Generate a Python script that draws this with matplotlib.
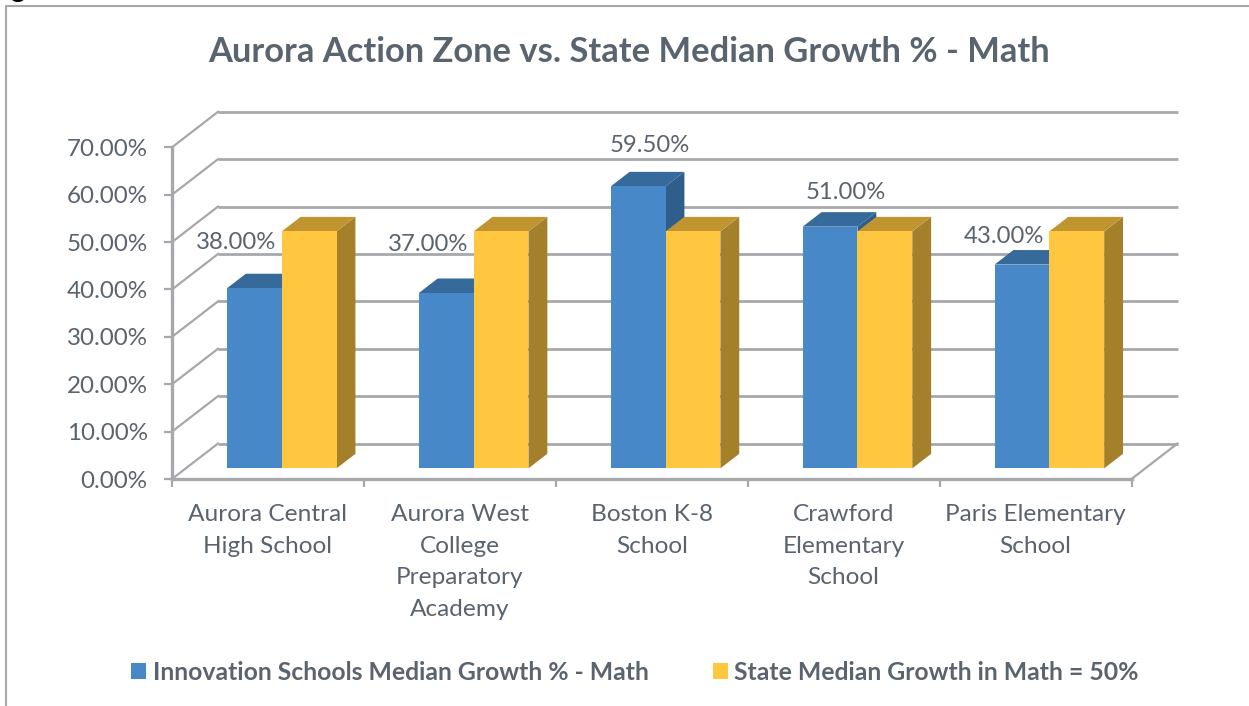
import matplotlib
matplotlib.use('Agg')
import matplotlib.pyplot as plt
from matplotlib.lines import Line2D
from matplotlib.patches import Patch, Polygon

schools = ['Aurora Central\nHigh School', 'Aurora West\nCollege\nPreparatory\nAcademy',
           'Boston K-8\nSchool', 'Crawford\nElementary\nSchool', 'Paris Elementary\nSchool']
innovation = [38.0, 37.0, 59.5, 51.0, 43.0]
state = [50.0, 50.0, 50.0, 50.0, 50.0]
y_ticks = [0, 10, 20, 30, 40, 50, 60, 70]
series_names = ['Innovation Schools Median Growth % - Math', 'State Median Growth in Math = 50%']

# label nudges in pixels, Excel moved some of them by hand
label_dx = [-18, -18, 12, 16, -18]
label_dy = [46, 49, 41, 34, 28]

W, H = 1249, 706
text_col = '#59646f'
grid_col = '#a6a8ab'
blue = ('#4789c8', '#366a9a', '#2f5e8c')
yellow = ('#ffc640', '#c09530', '#a5802b')

plt.rcParams['font.family'] = ['Lato', 'DejaVu Sans']

fig = plt.figure(figsize=(W / 100, H / 100), dpi=100)
ax = fig.add_axes([172 / W, 1 - 479 / H, 959.5 / W, 331.7 / H])
ax.set_xlim(0, 5)
ax.set_ylim(0, 70)
ax.patch.set_alpha(0)

# oblique offset of the back wall, in data units
depth_x = 46 / 191.9
depth_y = 35.5 / 4.74
bar_w = 1 / 3.5
start = 0.3
bar_depth = 0.41


def draw_bar(x, val, cols, z):
    x0 = x + start * depth_x
    base = start * depth_y
    top = base + val
    x1 = x0 + bar_w
    ox = bar_depth * depth_x
    oy = bar_depth * depth_y
    ax.bar(x0, val, bar_w, bottom=base, align='edge', color=cols[0], zorder=z + 0.2, clip_on=False)
    ax.add_patch(Polygon([(x0, top), (x1, top), (x1 + ox, top + oy), (x0 + ox, top + oy)],
                         color=cols[1], lw=0, zorder=z + 0.1, clip_on=False))
    ax.add_patch(Polygon([(x1, base), (x1 + ox, base + oy), (x1 + ox, top + oy), (x1, top)],
                         color=cols[2], lw=0, zorder=z, clip_on=False))
    return x0 + bar_w / 2, top


# walls
for v in y_ticks:
    ax.plot([0, depth_x], [v, v + depth_y], color=grid_col, lw=1.6, zorder=1, clip_on=False)
    ax.plot([depth_x, 5 + depth_x], [v + depth_y, v + depth_y], color=grid_col, lw=2.0, zorder=1,
            clip_on=False, solid_capstyle='butt')
ax.plot([5, 5 + depth_x], [0, depth_y], color=grid_col, lw=1.6, zorder=1, clip_on=False)

for i in range(len(schools)):
    cx, top = draw_bar(i + 0.5 - bar_w, innovation[i], blue, 3)
    draw_bar(i + 0.5, state[i], yellow, 4)
    ax.annotate('%.2f%%' % innovation[i], (cx, top), xytext=(label_dx[i], label_dy[i]),
                textcoords='offset pixels', ha='center', va='center', fontsize=17.2,
                color=text_col, zorder=6, annotation_clip=False)

for s in ['top', 'right']:
    ax.spines[s].set_visible(False)
for s in ['left', 'bottom']:
    ax.spines[s].set_color(grid_col)
    ax.spines[s].set_linewidth(2.4)
    ax.spines[s].set_zorder(2)

ax.set_yticks(y_ticks)
ax.set_yticklabels(['%.2f%%' % v for v in y_ticks], fontsize=17.4, color=text_col)
ax.set_xticks(range(6))
ax.set_xticklabels([])
ax.set_xticks([i + 0.5 for i in range(5)], minor=True)
ax.set_xticklabels(schools, minor=True, fontsize=17.6, color=text_col, linespacing=1.63)
ax.tick_params(axis='both', which='major', color=grid_col, width=1.6, length=6)
ax.tick_params(axis='y', pad=11.5)
ax.tick_params(axis='x', which='minor', length=0, pad=18)

fig.text(629.5 / W, 1 - 51.5 / H, 'Aurora Action Zone vs. State Median Growth % - Math',
         fontsize=24.8, fontweight='bold', color=text_col, ha='center', va='center')

handles = [Patch(color=blue[0], lw=0), Patch(color=yellow[0], lw=0)]
fig.legend(handles, series_names, loc='center', bbox_to_anchor=(635 / W, 1 - 672 / H), ncol=2,
           frameon=False, prop={'size': 17.8, 'weight': 'bold'}, labelcolor=text_col,
           handlelength=0.61, handleheight=0.61, handletextpad=0.25, columnspacing=2.6,
           borderpad=0, borderaxespad=0)

# page border and the clipped letter above it
fig.add_artist(Line2D([6 / W, 6 / W, 1], [0, 1 - 6 / H, 1 - 6 / H], color=grid_col, lw=1.5))
fig.text(18 / W, 1 - 2.5 / H, 'g', fontsize=20, fontweight='bold', color='black', ha='center', va='bottom')

fig.savefig('out.png', dpi=100)
